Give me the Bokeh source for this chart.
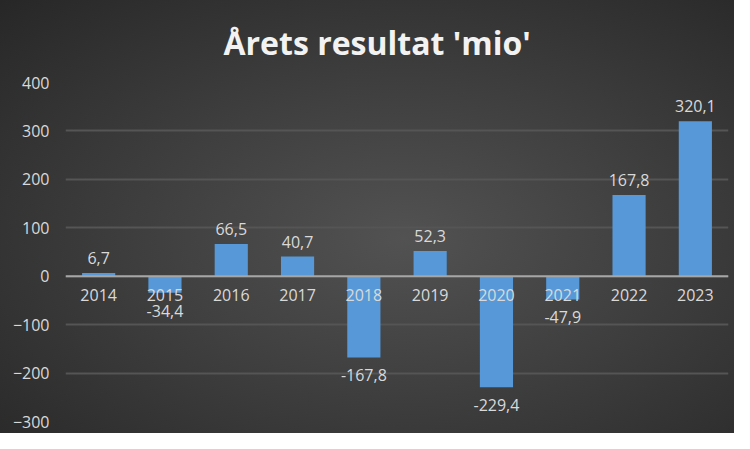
from bokeh.plotting import figure
from bokeh.models import ColumnDataSource, FixedTicker, Span
from bokeh.core.properties import value
from bokeh.embed import file_html
from bokeh.resources import INLINE

years = ["2014", "2015", "2016", "2017", "2018", "2019", "2020", "2021", "2022", "2023"]
results = [6.7, -34.4, 66.5, 40.7, -167.8, 52.3, -229.4, -47.9, 167.8, 320.1]
labels = ["6,7", "-34,4", "66,5", "40,7", "-167,8", "52,3", "-229,4", "-47,9", "167,8", "320,1"]
y_ticks = [-300, -200, -100, 0, 100, 200, 300, 400]

FONT = "Open Sans"
TXT = "#d9d9d9"

pos = [i for i, v in enumerate(results) if v >= 0]
neg = [i for i, v in enumerate(results) if v < 0]

src = ColumnDataSource(dict(x=years, top=results))
src_pos = ColumnDataSource(dict(x=[years[i] for i in pos], y=[results[i] for i in pos], t=[labels[i] for i in pos]))
src_neg = ColumnDataSource(dict(x=[years[i] for i in neg], y=[results[i] for i in neg], t=[labels[i] for i in neg]))
src_cat = ColumnDataSource(dict(x=years, y=[0] * len(years), t=years))

p = figure(x_range=years, y_range=(-300, 400), width=734, height=433,
           output_backend="svg", toolbar_location=None,
           min_border_left=65, min_border_right=6, min_border_top=10, min_border_bottom=12)

p.styles = {"background": "radial-gradient(ellipse at 55% 55%, #525252 0%, #3f3f3f 45%, #272727 100%)"}
p.background_fill_alpha = 0
p.border_fill_alpha = 0
p.outline_line_color = None

p.title.text = "Årets resultat 'mio'"
p.title.align = "left"
p.title.offset = 158
p.title.text_font = FONT
p.title.text_font_size = "32px"
p.title.text_font_style = "bold"
p.title.text_color = "#f2f2f2"
p.title.standoff = 37

p.vbar(x="x", top="top", bottom=0, width=0.5, source=src,
       fill_color="#5799d8", line_color=None)

p.add_layout(Span(location=0, dimension="width", line_color="#a6a6a6", line_width=2))

p.text(x="x", y="y", text="t", source=src_pos, text_align="center", text_baseline="bottom",
       y_offset=-9, text_font=value(FONT), text_font_size="16px", text_color=TXT)
p.text(x="x", y="y", text="t", source=src_neg, text_align="center", text_baseline="top",
       y_offset=12, text_font=value(FONT), text_font_size="16px", text_color=TXT)
p.text(x="x", y="y", text="t", source=src_cat, text_align="center", text_baseline="top",
       y_offset=13, text_font=value(FONT), text_font_size="16px", text_color=TXT)

p.xaxis.visible = False
p.xgrid.visible = False

p.yaxis.ticker = FixedTicker(ticks=y_ticks)
p.yaxis.axis_line_color = None
p.yaxis.major_tick_line_color = None
p.yaxis.minor_tick_line_color = None
p.yaxis.major_label_text_font = FONT
p.yaxis.major_label_text_font_size = "16px"
p.yaxis.major_label_text_color = TXT
p.yaxis.major_label_standoff = 10

p.ygrid.ticker = FixedTicker(ticks=y_ticks)
p.ygrid.grid_line_color = "#555555"
p.ygrid.grid_line_width = 2

open("out.html", "w").write(file_html(p, INLINE))
